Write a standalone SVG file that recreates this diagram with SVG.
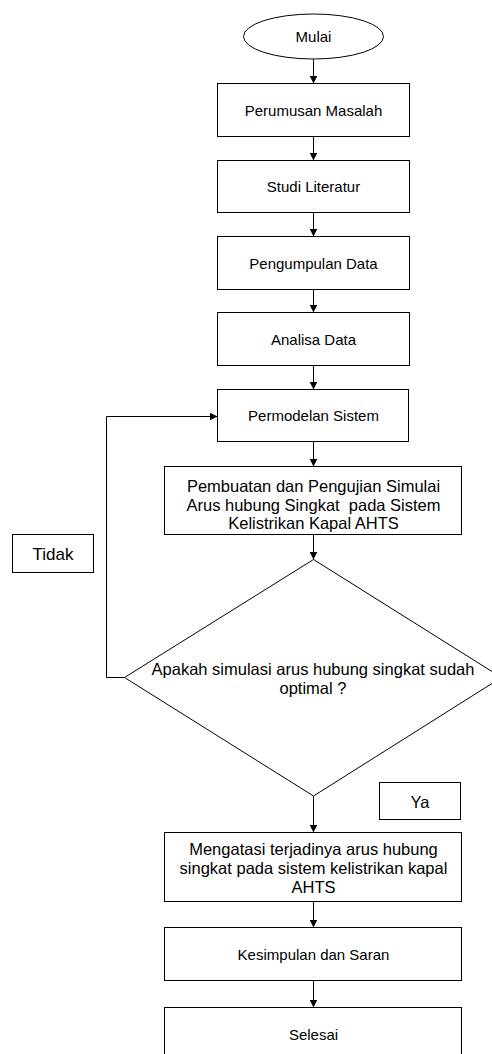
<svg xmlns="http://www.w3.org/2000/svg" width="492" height="1054" viewBox="0 0 492 1054">
<style>
.n{fill:#fff;stroke:#000;stroke-width:1}
.t{font-family:"Liberation Sans",Arial,sans-serif;font-size:15px;fill:#000;text-anchor:middle}
.b{font-size:16.5px}
.c{fill:none;stroke:#000;stroke-width:1}
</style>
<defs>
<marker id="ah" markerUnits="userSpaceOnUse" markerWidth="8" markerHeight="8" refX="8" refY="4" orient="auto">
<path d="M0,0 L8,4 L0,8 z" fill="#000"/>
</marker>
</defs>
<rect width="492" height="1054" fill="#fff"/>
<g id="connectors">
<line class="c" x1="313.5" y1="59" x2="313.5" y2="83.5" marker-end="url(#ah)"/>
<line class="c" x1="313.5" y1="136.5" x2="313.5" y2="160.5" marker-end="url(#ah)"/>
<line class="c" x1="313.5" y1="212.5" x2="313.5" y2="236.5" marker-end="url(#ah)"/>
<line class="c" x1="313.5" y1="289.5" x2="313.5" y2="312.5" marker-end="url(#ah)"/>
<line class="c" x1="313.5" y1="365.5" x2="313.5" y2="389.5" marker-end="url(#ah)"/>
<line class="c" x1="313.5" y1="441.5" x2="313.5" y2="466.5" marker-end="url(#ah)"/>
<line class="c" x1="313.5" y1="534.5" x2="313.5" y2="559.5" marker-end="url(#ah)"/>
<line class="c" x1="313.5" y1="796" x2="313.5" y2="832.5" marker-end="url(#ah)"/>
<line class="c" x1="313.5" y1="901.5" x2="313.5" y2="927.5" marker-end="url(#ah)"/>
<line class="c" x1="313.5" y1="980.5" x2="313.5" y2="1007.5" marker-end="url(#ah)"/>
<polyline class="c" points="124.5,677.5 106.5,677.5 106.5,416.5 217.5,416.5" marker-end="url(#ah)"/>
</g>
<g id="mulai"><ellipse class="n" cx="313.5" cy="36.5" rx="70" ry="22.5"/><text class="t" x="313.5" y="41.5">Mulai</text></g>
<g id="perumusan"><rect class="n" x="217.5" y="83.5" width="192" height="53"/><text class="t" x="313.5" y="116">Perumusan Masalah</text></g>
<g id="studi"><rect class="n" x="217.5" y="160.5" width="192" height="52"/><text class="t" x="313.5" y="192">Studi Literatur</text></g>
<g id="pengumpulan"><rect class="n" x="217.5" y="236.5" width="192" height="53"/><text class="t" x="313.5" y="268.5">Pengumpulan Data</text></g>
<g id="analisa"><rect class="n" x="217.5" y="312.5" width="192" height="53"/><text class="t" x="313.5" y="345">Analisa Data</text></g>
<g id="permodelan"><rect class="n" x="217.5" y="389.5" width="191" height="52"/><text class="t" x="313.5" y="421">Permodelan Sistem</text></g>
<g id="pembuatan"><rect class="n" x="164.5" y="466.5" width="297" height="68"/>
<text class="t b" x="313.5" y="492">Pembuatan dan Pengujian Simulai</text>
<text class="t b" x="313.5" y="510.5" xml:space="preserve">Arus hubung Singkat  pada Sistem</text>
<text class="t b" x="313.5" y="529">Kelistrikan Kapal AHTS</text></g>
<g id="keputusan"><polygon class="n" points="313.5,559.5 501.5,677.5 313.5,796 124.5,677.5"/>
<text class="t b" x="313" y="675">Apakah simulasi arus hubung singkat sudah</text>
<text class="t b" x="313" y="694">optimal ?</text></g>
<g id="tidak"><rect class="n" x="12.5" y="534.5" width="81" height="38"/><text class="t" style="font-size:17px" x="53" y="560">Tidak</text></g>
<g id="ya"><rect class="n" x="379.5" y="782.5" width="81" height="37"/><text class="t b" x="420" y="807.5">Ya</text></g>
<g id="mengatasi"><rect class="n" x="164.5" y="832.5" width="297" height="69"/>
<text class="t b" x="313.5" y="855">Mengatasi terjadinya arus hubung</text>
<text class="t b" x="313.5" y="874">singkat pada sistem kelistrikan kapal</text>
<text class="t b" x="313.5" y="893">AHTS</text></g>
<g id="kesimpulan"><rect class="n" x="164.5" y="927.5" width="297" height="53"/><text class="t" x="313.5" y="960">Kesimpulan dan Saran</text></g>
<g id="selesai"><rect class="n" x="164.5" y="1007.5" width="297" height="60"/><text class="t" x="313.5" y="1040">Selesai</text></g>
</svg>
